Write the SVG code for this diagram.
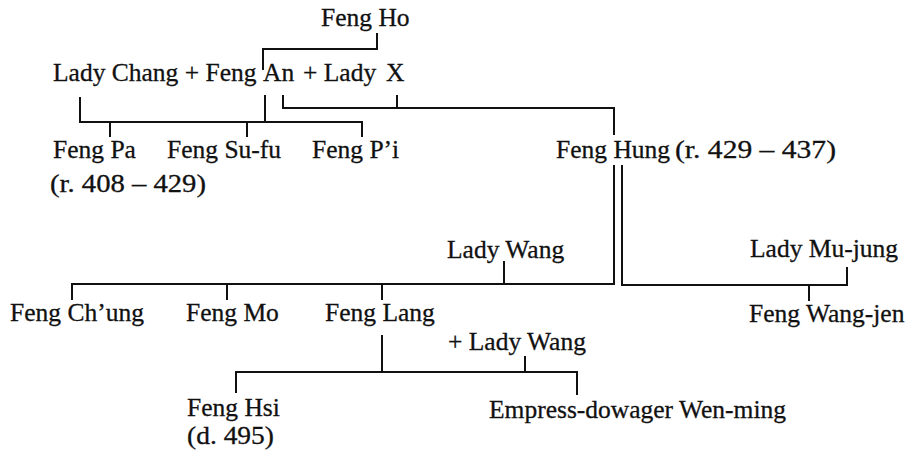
<svg xmlns="http://www.w3.org/2000/svg" width="908" height="453" viewBox="0 0 908 453">
<style>
text{font-family:"Liberation Serif","Times New Roman",serif;font-size:25.5px;fill:#111;stroke:#111;stroke-width:0.3}
.c{fill:none;stroke:#111;stroke-width:2;stroke-linejoin:miter}
</style>
<rect width="908" height="453" fill="#fff"/>
<g id="connectors" class="c">
<path d="M377,33 V49 H263 V70"/>
<path d="M80,97 V122 H362 V137 M265,95 V122 M110,122 V137 M247,122 V137"/>
<path d="M283,95 V108 H614 V135 M397,95 V108"/>
<path d="M614,165 V284 H72 V300 M504,261 V284 M227,284 V300 M382,284 V300"/>
<path d="M622,165 V285 H847 V267 M809,285 V301"/>
<path d="M382,335 V372 M236,393 V372 H577 V395 M525,356 V372"/>
</g>
<g id="feng-ho"><text x="321" y="26">Feng Ho</text></g>
<g id="feng-an"><text x="53" y="81">Lady Chang + Feng <tspan x="263">An</tspan><tspan x="303">+ Lady</tspan><tspan x="386">X</tspan></text></g>
<g id="feng-pa"><text x="53" y="158">Feng Pa</text><text x="50" y="192" textLength="156" lengthAdjust="spacingAndGlyphs">(r. 408 – 429)</text></g>
<g id="feng-sufu"><text x="167" y="158">Feng Su-fu</text></g>
<g id="feng-pi"><text x="312" y="158">Feng P’i</text></g>
<g id="feng-hung"><text x="556" y="158">Feng Hung <tspan x="675" textLength="161" lengthAdjust="spacingAndGlyphs">(r. 429 – 437)</tspan></text></g>
<g id="lady-wang-1"><text x="447" y="258">Lady Wang</text></g>
<g id="lady-mujung"><text x="750" y="257">Lady Mu-jung</text></g>
<g id="feng-chung"><text x="10" y="321">Feng Ch’ung</text></g>
<g id="feng-mo"><text x="186" y="321">Feng Mo</text></g>
<g id="feng-lang"><text x="325" y="321">Feng Lang</text></g>
<g id="feng-wangjen"><text x="749" y="322">Feng Wang-jen</text></g>
<g id="lady-wang-2"><text x="448" y="350">+ Lady Wang</text></g>
<g id="feng-hsi"><text x="187" y="416">Feng Hsi</text><text x="187" y="444" textLength="87" lengthAdjust="spacingAndGlyphs">(d. 495)</text></g>
<g id="wen-ming"><text x="489" y="418">Empress-dowager Wen-ming</text></g>
</svg>
